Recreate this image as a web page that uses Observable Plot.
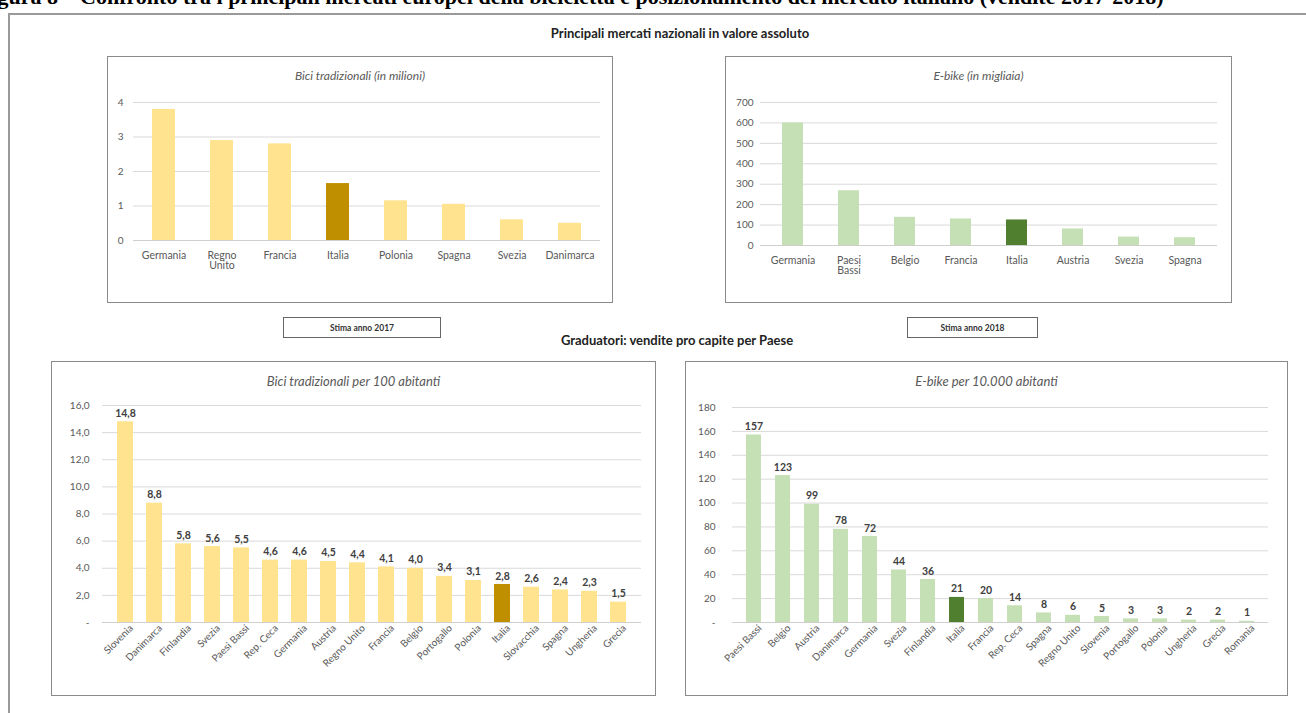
<!DOCTYPE html>
<html><head><meta charset="utf-8">
<script src="https://cdn.jsdelivr.net/npm/d3@7"></script>
<script src="https://cdn.jsdelivr.net/npm/@observablehq/plot@0.6"></script>
<style>
body{margin:0;width:1306px;height:713px;overflow:hidden;background:#fff;font-family:Lato,'Liberation Sans',sans-serif;position:relative}
.abs{position:absolute}
.frame{left:8px;top:13px;width:1330px;height:740px;border-left:2px solid #9a9a9a;border-top:2px solid #9a9a9a;box-sizing:border-box}
.border{position:absolute;left:0;top:0;right:0;bottom:0;border:1.5px solid #8a8a8a;box-sizing:border-box}
.ptitle{position:absolute;left:0;right:0;text-align:center;font-style:italic;color:#595959;white-space:nowrap}
.sect{position:absolute;font-weight:bold;font-size:13px;color:#222;white-space:nowrap;transform:translate(-50%,-50%)}
.stima{position:absolute;border:1.5px solid #666;box-sizing:border-box;font-weight:bold;font-size:8.5px;color:#333;display:flex;align-items:center;justify-content:center}
.top{position:absolute;left:-22px;top:-14px;font:bold 22px 'Liberation Serif',serif;line-height:22px;white-space:nowrap;color:#000}
</style></head><body>
<div class="top">Figura 8 – Confronto tra i principali mercati europei della bicicletta e posizionamento del mercato italiano (vendite 2017-2018)</div>
<div class="abs frame"></div>
<div class="sect" style="left:680px;top:33px">Principali mercati nazionali in valore assoluto</div>
<div class="stima" style="left:283px;top:317px;width:158px;height:21px">Stima anno 2017</div>
<div class="stima" style="left:907px;top:317px;width:131px;height:21px">Stima anno 2018</div>
<div class="sect" style="left:677px;top:340px">Graduatori: vendite pro capite per Paese</div>
<div id="root"></div>
<script>
// ---- data ----
const biciCat = ["Germania","Regno Unito","Francia","Italia","Polonia","Spagna","Svezia","Danimarca"];
const biciMln = [3.8, 2.9, 2.8, 1.65, 1.15, 1.05, 0.6, 0.5];
const ebikeCat = ["Germania","Paesi Bassi","Belgio","Francia","Italia","Austria","Svezia","Spagna"];
const ebikeMigliaia = [600, 268, 138, 130, 125, 81, 41, 38];
const biciPcCat = ["Slovenia","Danimarca","Finlandia","Svezia","Paesi Bassi","Rep. Ceca","Germania","Austria","Regno Unito","Francia","Belgio","Portogallo","Polonia","Italia","Slovacchia","Spagna","Ungheria","Grecia"];
const biciPer100 = [14.8, 8.8, 5.8, 5.6, 5.5, 4.6, 4.6, 4.5, 4.4, 4.1, 4.0, 3.4, 3.1, 2.8, 2.6, 2.4, 2.3, 1.5];
const ebikePcCat = ["Paesi Bassi","Belgio","Austria","Danimarca","Germania","Svezia","Finlandia","Italia","Francia","Rep. Ceca","Spagna","Regno Unito","Slovenia","Portogallo","Polonia","Ungheria","Grecia","Romania"];
const ebikePer10000 = [157, 123, 99, 78, 72, 44, 36, 21, 20, 14, 8, 6, 5, 3, 3, 2, 2, 1];
const ticks1 = [0,1,2,3,4];
const ticks2 = [0,100,200,300,400,500,600,700];
const ticks3 = [0,2,4,6,8,10,12,14,16];
const ticks4 = [0,20,40,60,80,100,120,140,160,180];

const yellow = "#FFE38F", yellowDark = "#BF8F00";
const green = "#C5E0B4", greenDark = "#4F7F2F";
const itFmt1 = v => v === 0 ? "-" : d3.format(".1f")(v).replace(".", ",");
const intDash = v => v === 0 ? "-" : String(v);
const wrap = c => c.replace(" ", "\n");

function panel(o) {
  const data = o.cats.map((c, i) => ({c, v: o.vals[i]}));
  const wrapEl = document.createElement("div");
  wrapEl.className = "abs";
  Object.assign(wrapEl.style, {left: o.left + "px", top: o.top + "px", width: o.w + "px", height: o.h + "px"});
  const b = document.createElement("div"); b.className = "border"; wrapEl.appendChild(b);
  const t = document.createElement("div"); t.className = "ptitle";
  t.style.top = o.titleY + "px"; t.style.fontSize = o.titleSize + "px";
  t.textContent = o.title; wrapEl.appendChild(t);
  const marks = [
    Plot.gridY(o.ticks.filter(d => d > 0), {stroke: "#d9d9d9", strokeOpacity: 1}),
    Plot.ruleY([0], {stroke: "#cfcfcf"}),
    Plot.barY(data, {filter: d => d.c !== "Italia", x: "c", y: "v", fill: o.base}),
    Plot.barY(data, {filter: d => d.c === "Italia", x: "c", y: "v", fill: o.hi}),
    Plot.axisY(o.ticks, {tickSize: 0, tickPadding: o.yPad, tickFormat: o.yFmt, fontSize: o.yFont, fill: "#595959", label: null}),
    Plot.axisX({tickSize: 0, tickPadding: o.xPad, tickRotate: o.rot, dx: o.xdx || 0, tickFormat: o.xFmt, fontSize: o.xFont, fill: "#595959", label: null})
  ];
  if (o.labels) marks.push(Plot.text(data, {x: "c", y: "v", text: d => o.labels(d.v), dy: -5, lineAnchor: "bottom", fontWeight: "bold", fill: "#404040", fontSize: 10.5}));
  const p = Plot.plot({
    width: o.w, height: o.h,
    marginTop: o.mt, marginBottom: o.mb, marginLeft: o.ml, marginRight: o.mr,
    style: {fontFamily: "Lato, sans-serif", fontSize: "10px", color: "#595959", background: "transparent", position: "absolute", left: "0px", top: "0px"},
    x: {domain: o.cats, paddingInner: o.pi, paddingOuter: o.po, axis: null, label: null},
    y: {domain: o.domain, axis: null, label: null},
    marks
  });
  wrapEl.appendChild(p);
  document.getElementById("root").appendChild(wrapEl);
}

panel({left: 107, top: 56, w: 506, h: 247, title: "Bici tradizionali (in milioni)", titleY: 12, titleSize: 12,
  cats: biciCat, vals: biciMln, base: yellow, hi: yellowDark, ticks: ticks1, domain: [0, 4], yFmt: d => String(d),
  mt: 46, mb: 63, ml: 26, mr: 13, pi: 0.61, po: 0.305, yPad: 10, xPad: 11, rot: 0, xFmt: wrap, xFont: 10.5, yFont: 10});

panel({left: 725, top: 56, w: 507, h: 247, title: "E-bike (in migliaia)", titleY: 12, titleSize: 12,
  cats: ebikeCat, vals: ebikeMigliaia, base: green, hi: greenDark, ticks: ticks2, domain: [0, 700], yFmt: d => String(d),
  mt: 46, mb: 58, ml: 35, mr: 15, pi: 0.62, po: 0.34, yPad: 7, xPad: 11, rot: 0, xFmt: wrap, xFont: 10.5, yFont: 10});

panel({left: 51, top: 361, w: 605, h: 335, title: "Bici tradizionali per 100 abitanti", titleY: 12, titleSize: 13,
  cats: biciPcCat, vals: biciPer100, base: yellow, hi: yellowDark, ticks: ticks3, domain: [0, 16], yFmt: itFmt1,
  mt: 44, mb: 74, ml: 51, mr: 15, pi: 0.44, po: 0.22, yPad: 13, xPad: 4, rot: -45, xdx: 6, xFmt: d => d, labels: itFmt1, xFont: 10, yFont: 10});

panel({left: 685, top: 361, w: 603, h: 335, title: "E-bike per 10.000 abitanti", titleY: 12, titleSize: 13,
  cats: ebikePcCat, vals: ebikePer10000, base: green, hi: greenDark, ticks: ticks4, domain: [0, 180], yFmt: intDash,
  mt: 46, mb: 74, ml: 47, mr: 20, pi: 0.5, po: 0.25, yPad: 17, xPad: 4, rot: -45, xdx: 6, xFmt: d => d, labels: d => String(d), xFont: 10, yFont: 10});
</script>
</body></html>
